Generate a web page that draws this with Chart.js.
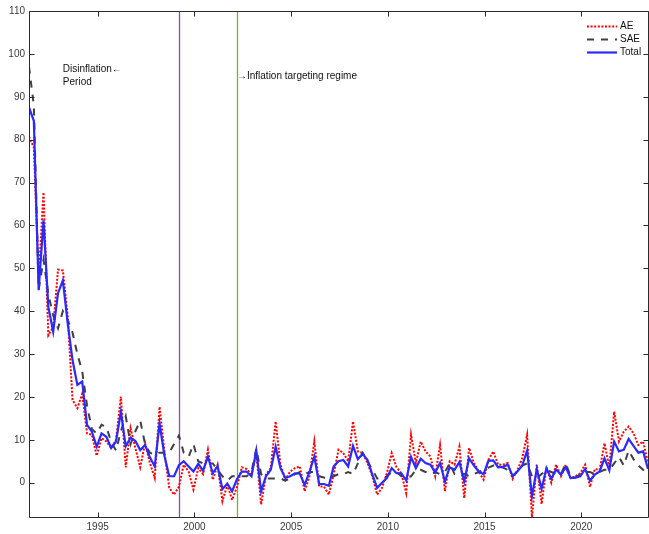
<!DOCTYPE html>
<html>
<head>
<meta charset="utf-8">
<script src="https://cdn.jsdelivr.net/npm/chart.js@4/dist/chart.umd.min.js"></script>
<style>html,body{margin:0;padding:0;background:#fff;}canvas{display:block;}</style>
</head>
<body>
<canvas id="c" width="649" height="534"></canvas>
<script>
// Quarterly observations: first period and spacing (years)
const startYear = 1991.45;
const stepYears = 0.25;

const aeValues = [
  80.7, 78.2, 48, 67.7, 34.4, 36.3, 49.7, 49.5, 39, 19.3,
  17.4, 20.7, 11.5, 11.2, 6.3, 10.4, 9.6, 8.1, 10, 20.1,
  3.6, 12.7, 8.1, 3.6, 9.2, 4.6, 1.1, 17.7, 7.3, -1.2,
  -2.8, -0.9, 4.2, 2.6, -1.6, 3.4, 2, 7.7, 0.7, 4.2,
  -4.3, -0.5, -4, -1, 3.6, 3.2, 1.9, 6.9, -5.1, 1.9,
  3.4, 14.3, 4.2, 0.7, 2.6, 3.4, 3.8, -2, 1.5, 9.6,
  -0.9, -0.9, -2.8, 1.9, 7.7, 6.9, 5, 14.3, 7.3, 6.9,
  4.6, 1.5, -2.8, -1.2, 2.2, 6.9, 3.6, 2.2, -2.4, 11.2,
  4.6, 9.6, 7.3, 6.1, 1.5, 8.8, -2, 5, 4.2, 8.4,
  -3.6, 8.1, 4.6, 2.6, 0.7, 5.3, 7.3, 4.2, 4.2, 4.6,
  0.9, 3, 5.7, 11.2, -8, 4.2, -5, 3.6, 0, 4.2,
  1.5, 4.2, 1.1, 1.5, 2.2, 4.2, -1, 3.2, 3, 9.2,
  3.6, 16.6, 9.6, 11.9, 13.1, 11.5, 8.8, 9.6, 4.6
];
const saeValues = [
  97, 88, 45, 52, 44, 39, 36, 40, 38, 35,
  30, 26, 18, 12.5, 11.5, 13.5, 13, 9.5, 7.5, 12,
  15.5, 9, 12, 14.5, 9, 7, 6.5, 7, 7, 7,
  9, 11, 7, 6, 9, 5, 4.5, 4.5, 4.5, 3,
  1.5, 0.5, 1.5, 1.5, 1.5, 1.5, 2.5, 8, 2, 1,
  1, 1, 1, 0.5, 1, 2, 2.5, 2, 2.5, 2.5,
  1.5, 1.2, 1, 1.5, 2, 2, 2.5, 2, 4.5, 7,
  5, 3, 1, 1, 1.5, 2.5, 2.5, 1.5, 1.2, 1.5,
  3, 3, 2.5, 2, 2.5, 2, 2.5, 4.5, 2, 2,
  2, 1.5, 2, 2.5, 3, 3.5, 4, 4, 3.5, 3,
  1.5, 2.5, 4, 4.5, 1.5, 1, 2, 3, 2.5, 2,
  2, 4.5, 1.5, 1.2, 2, 2.5, 2.5, 2, 2.5, 3,
  3, 4.5, 6, 4, 7.5, 5.5, 4, 3, 2.5
];
const totalValues = [
  87.5, 84.4, 44.9, 61.2, 41, 35.2, 44.2, 47.2, 37.2, 28.6,
  22.8, 23.6, 13.5, 11.9, 8.4, 11.5, 10.7, 8.1, 9.6, 16.5,
  8.5, 10.5, 9.7, 7.6, 8.8, 5.9, 3.8, 13.8, 6.3, 1.5,
  1.5, 4.1, 5, 3.8, 2.6, 4.4, 2.8, 6.1, 2.2, 3.9,
  -1.5, -0.2, -2, 0.8, 2.6, 2.6, 1.5, 7.5, -2, 1.5,
  3, 8.4, 3.4, 1.1, 1.5, 2.2, 2.1, -0.5, 2.5, 6.1,
  -0.3, -0.3, -0.7, 3.8, 5, 5.3, 3.8, 8.6, 5.5, 6.7,
  5.3, 1.9, -1.2, 0, 1.1, 3.4, 2.2, 2.2, 0.5, 6,
  3.4, 5.6, 4.6, 4.2, 2.4, 4.6, 0.3, 3.6, 3, 4.8,
  0.3, 5.7, 4, 2.6, 2, 5.1, 5.2, 3.6, 3.7, 4.2,
  1.6, 2.6, 4, 7.5, -3.2, 3.2, -1.4, 3.4, 0.9, 3.1,
  1.9, 3.6, 1.1, 1.2, 1.5, 3.2, 0.5, 1.9, 2.6, 5.7,
  2.9, 9.6, 7.3, 7.7, 10.2, 8.6, 7, 7.3, 3.2
];

const seriesNames = ['AE', 'SAE', 'Total'];
const xTickValues = [1995, 2000, 2005, 2010, 2015, 2020];
const yTickValues = [0, 10, 20, 30, 40, 50, 60, 70, 80, 90, 100, 110];
const yMin = -8, yMax = 110;

const regimeLines = [
  { x: 1999.2, color: '#A43CC8' },
  { x: 2002.2, color: '#6DB82A' }
];
const annotationTexts = [
  { x: 1993.2, y: 96.3, parts: [['Disinflation', 10], ['\u2190', 10]] },
  { x: 1993.2, y: 93.3, parts: [['Period', 10]] },
  { x: 2002.2, y: 94.9, parts: [['\u2192', 10], ['Inflation targeting regime', 10]] }
];

const FONT = "'Liberation Sans', Arial, Helvetica, sans-serif";
const AXIS_COLOR = '#2b2b2b';

const toPoints = vals => vals.map((v, i) => ({ x: startYear + i * stepYears, y: v }));

const styles = {
  AE:    { borderColor: '#ff0000', borderWidth: 2,   borderDash: [2, 1.6], order: 2 },
  SAE:   { borderColor: '#404040', borderWidth: 2,   borderDash: [7, 7],   order: 1 },
  Total: { borderColor: '#2a2aff', borderWidth: 2.2, borderDash: [],       order: 0 }
};
const seriesData = { AE: aeValues, SAE: saeValues, Total: totalValues };

const datasets = seriesNames.map(name => Object.assign({
  label: name,
  data: toPoints(seriesData[name]),
  pointRadius: 0,
  pointHoverRadius: 0,
  fill: false,
  tension: 0,
  borderCapStyle: 'butt',
  borderJoinStyle: 'miter'
}, styles[name]));

const framePlugin = {
  id: 'frame',
  beforeDatasetsDraw(chart) {
    const { ctx, chartArea: { top, bottom }, scales: { x } } = chart;
    ctx.save();
    ctx.setLineDash([]);
    ctx.lineWidth = 1.3;
    regimeLines.forEach(l => {
      const px = Math.round(x.getPixelForValue(l.x)) + 0.5;
      ctx.strokeStyle = l.color;
      ctx.beginPath(); ctx.moveTo(px, top); ctx.lineTo(px, bottom); ctx.stroke();
    });
    ctx.restore();
  },
  afterDatasetsDraw(chart) {
    const { ctx, scales: { x, y } } = chart;
    ctx.save();
    ctx.fillStyle = '#111';
    ctx.textBaseline = 'middle';
    ctx.textAlign = 'left';
    annotationTexts.forEach(a => {
      let px = x.getPixelForValue(a.x);
      const py = y.getPixelForValue(a.y);
      a.parts.forEach(([txt, size]) => {
        ctx.font = size + 'px ' + FONT;
        ctx.fillText(txt, px, py);
        px += ctx.measureText(txt).width;
      });
    });
    ctx.restore();
  },
  afterDraw(chart) {
    const { ctx, chartArea: { left, right, top, bottom }, scales: { x, y } } = chart;
    ctx.save();
    ctx.setLineDash([]);
    ctx.strokeStyle = AXIS_COLOR;
    ctx.lineWidth = 1;
    const L = left + 0.5, R = right + 0.5, T = top + 0.5, B = bottom + 0.5;
    ctx.beginPath();
    ctx.moveTo(L, T); ctx.lineTo(R, T); ctx.lineTo(R, B); ctx.lineTo(L, B); ctx.closePath();
    ctx.stroke();
    const tl = 5;
    ctx.beginPath();
    xTickValues.forEach(v => {
      const px = Math.round(x.getPixelForValue(v)) + 0.5;
      ctx.moveTo(px, B); ctx.lineTo(px, B - tl);
      ctx.moveTo(px, T); ctx.lineTo(px, T + tl);
    });
    yTickValues.forEach(v => {
      const py = Math.round(y.getPixelForValue(v)) + 0.5;
      ctx.moveTo(L, py); ctx.lineTo(L + tl, py);
      ctx.moveTo(R, py); ctx.lineTo(R - tl, py);
    });
    ctx.stroke();

    // legend (top-right, no box)
    const lx0 = right - 61, lx1 = right - 31, tx = right - 28;
    ctx.font = '10px ' + FONT;
    ctx.textBaseline = 'middle';
    ctx.textAlign = 'left';
    chart.data.datasets.forEach((ds, i) => {
      const ly = top + 15.5 + i * 13;
      ctx.save();
      ctx.strokeStyle = ds.borderColor;
      ctx.lineWidth = ds.borderWidth;
      ctx.setLineDash(ds.borderDash || []);
      ctx.lineCap = 'butt';
      ctx.beginPath(); ctx.moveTo(lx0, ly); ctx.lineTo(lx1, ly); ctx.stroke();
      ctx.restore();
      ctx.fillStyle = '#111';
      ctx.fillText(ds.label, tx, ly);
    });
    ctx.restore();
  }
};

Chart.defaults.font.family = FONT;

new Chart(document.getElementById('c'), {
  type: 'line',
  data: { datasets },
  options: {
    responsive: false,
    animation: false,
    devicePixelRatio: 1,
    layout: { padding: { top: 11, right: 1, left: 0, bottom: 0 } },
    plugins: { legend: { display: false }, tooltip: { enabled: false } },
    scales: {
      x: {
        type: 'linear',
        min: startYear,
        max: startYear + (totalValues.length - 1) * stepYears,
        grid: { display: false, drawTicks: false },
        border: { display: false },
        afterBuildTicks: s => { s.ticks = xTickValues.map(v => ({ value: v })); },
        afterFit: s => { s.height = 17; },
        ticks: {
          color: '#3a3a3a', font: { size: 10 }, padding: 4, maxRotation: 0,
          autoSkip: false, callback: v => String(v)
        }
      },
      y: {
        type: 'linear',
        min: yMin,
        max: yMax,
        grid: { display: false, drawTicks: false },
        border: { display: false },
        afterBuildTicks: s => { s.ticks = yTickValues.map(v => ({ value: v })); },
        afterFit: s => { s.width = 29; },
        ticks: {
          color: '#3a3a3a', font: { size: 10 }, padding: 4,
          autoSkip: false, callback: v => String(v)
        }
      }
    }
  },
  plugins: [framePlugin]
});
</script>
</body>
</html>
